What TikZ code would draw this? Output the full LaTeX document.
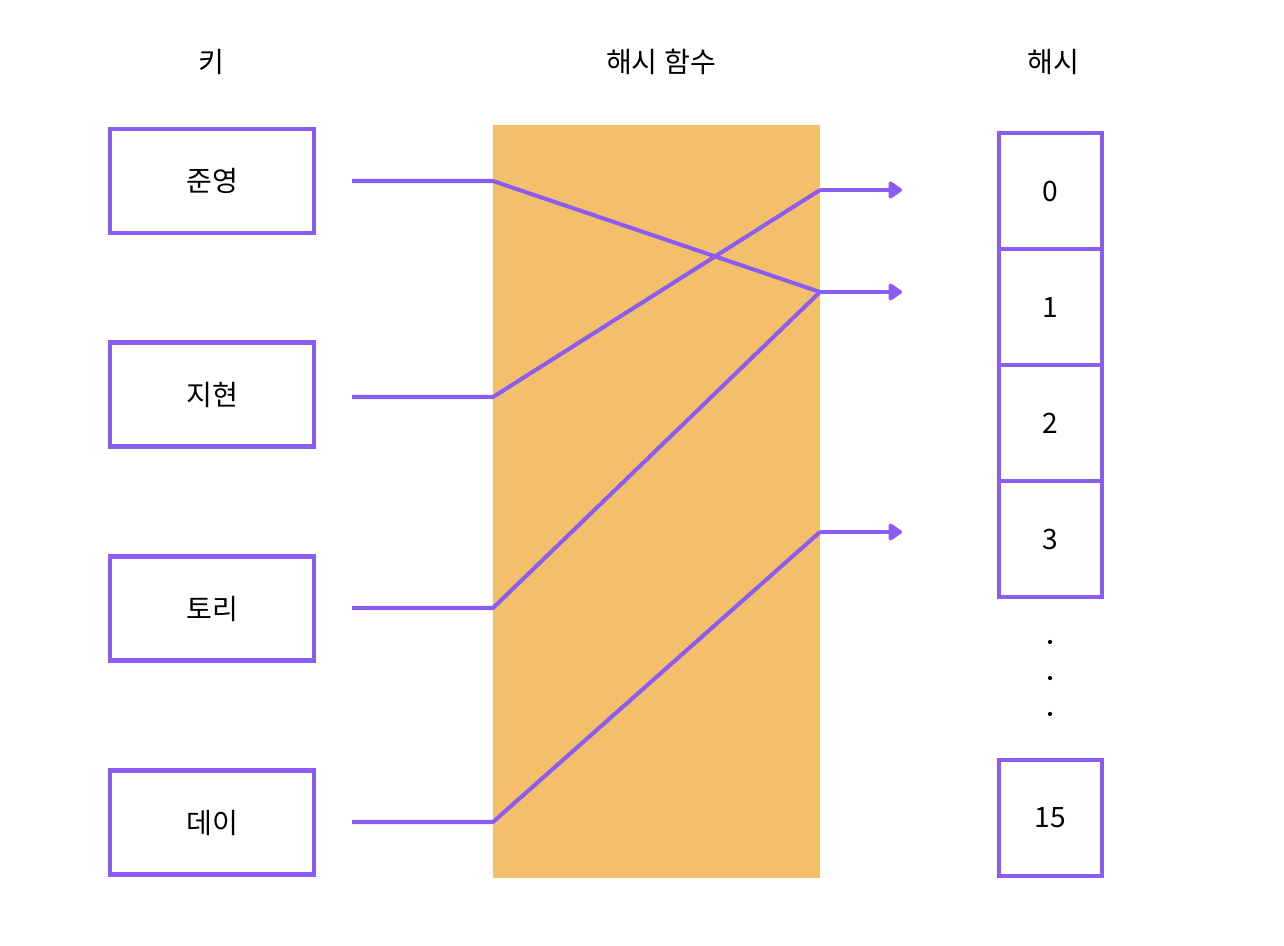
\documentclass[tikz,border=0pt]{standalone}
\usepackage{fontspec}
\setmainfont{Noto Sans CJK KR}
\usetikzlibrary{arrows.meta, positioning}

\definecolor{hashpurple}{HTML}{8A5CF2}
\definecolor{hashorange}{HTML}{F4BF6A}

\begin{document}
\begin{tikzpicture}[
    x=0.02cm, y=-0.02cm,
    keybox/.style = {rectangle, draw=hashpurple, line width=2.4pt, minimum width=4.08cm, minimum height=2.08cm, font=\fontsize{16}{18}\selectfont},
    slot/.style = {rectangle, draw=hashpurple, line width=2.4pt, minimum width=2.06cm, minimum height=2.32cm, font=\fontsize{16}{18}\selectfont},
    title/.style = {font=\fontsize{16}{18}\selectfont},
    dot/.style = {circle, fill=black, inner sep=0pt, minimum size=2.4pt},
    link/.style = {draw=hashpurple, line width=2.3pt},
    >={Triangle[length=8.5pt, width=11pt, round]}]

    \useasboundingbox (0,0) rectangle (1284,946);

    % hash function block
    \fill[hashorange] (493,125) rectangle (820,878);

    % titles
    \node[title] (tkey) at (211,62) {키};
    \node[title] (tfunc) at (661,62) {해시 함수};
    \node[title] (thash) at (1053,62) {해시};

    % keys
    \node[keybox] (k1) at (212,181) {준영};
    \node[keybox] (k2) at (212,394.5) {지현};
    \node[keybox] (k3) at (212,608.5) {토리};
    \node[keybox] (k4) at (212,822.5) {데이};

    % hash slots
    \node[slot] (h0) at (1050.5,191) {0};
    \node[slot] (h1) at (1050.5,307) {1};
    \node[slot] (h2) at (1050.5,423) {2};
    \node[slot] (h3) at (1050.5,539) {3};
    \node[slot] (h15) at (1050.5,818) {15};
    \node[dot] (d1) at (1050,642) {};
    \node[dot] (d2) at (1050,678) {};
    \node[dot] (d3) at (1050,714) {};

    % line end points
    \coordinate (a1) at (352,181);
    \coordinate (a2) at (352,397);
    \coordinate (a3) at (352,608);
    \coordinate (a4) at (352,822);
    \coordinate (b1) at (493,181);
    \coordinate (b2) at (493,397);
    \coordinate (b3) at (493,608);
    \coordinate (b4) at (493,822);
    \coordinate (c0) at (820,190);
    \coordinate (c1) at (820,292);
    \coordinate (c3) at (820,532);
    \coordinate (e0) at (902,190);
    \coordinate (e1) at (902,292);
    \coordinate (e3) at (902,532);

    \draw[link, line join=round] (a1) -- (b1) -- (c1);
    \draw[link, line join=round] (a2) -- (b2) -- (c0);
    \draw[link, line join=round] (a3) -- (b3) -- (c1);
    \draw[link, line join=round] (a4) -- (b4) -- (c3);
    \draw[link, ->] (c0) -- (e0);
    \draw[link, ->] (c1) -- (e1);
    \draw[link, ->] (c3) -- (e3);
\end{tikzpicture}
\end{document}
